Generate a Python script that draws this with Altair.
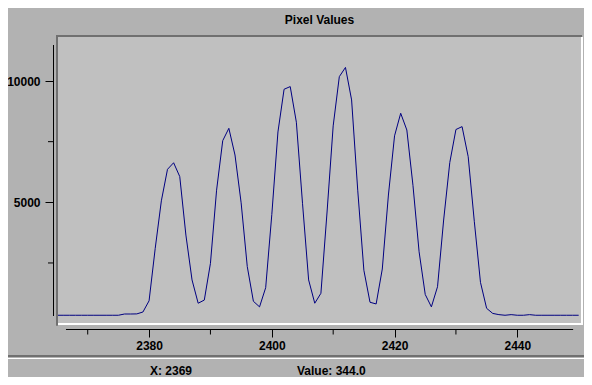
import altair as alt
import pandas as pd

# ---------------- data ----------------
pixel_x = list(range(2365, 2451))
pixel_values = [
    344, 344, 344, 344, 344, 344, 344, 344, 344, 344,        # 2365-2374
    344, 396, 396, 400, 478, 940, 3100, 5060, 6360, 6630,    # 2375-2384
    6060, 3650, 1800, 840, 970, 2485, 5500, 7540, 8050, 6950,  # 2385-2394
    4980, 2350, 920, 690, 1480, 4500, 7900, 9660, 9770, 8300,  # 2395-2404
    4960, 1800, 840, 1250, 4600, 8150, 10180, 10560, 9220, 5500,  # 2405-2414
    2200, 880, 810, 2250, 5300, 7740, 8670, 7980, 5700, 2960,  # 2415-2424
    1200, 690, 1520, 4270, 6640, 8000, 8120, 6880, 4200, 1700,  # 2425-2434
    630, 420, 370, 344, 370, 344, 344, 370, 344, 344,        # 2435-2444
    344, 344, 344, 344, 344, 344,                            # 2445-2450
]
x_major_ticks = [2380, 2400, 2420, 2440]
x_minor_ticks = [2370, 2390, 2410, 2430]
y_major_ticks = [5000, 10000]
y_minor_ticks = [2500, 7500]
x_axis_span = [2366.46, 2449.1]
y_axis_span = [313, 11484]
x_domain = [2365.16, 2450.38]
y_domain = [25, 11814]
title_text = "Pixel Values"
status_x = 2369

df = pd.DataFrame({"X": pixel_x, "value": pixel_values})
status_value = float(df.loc[df["X"] == status_x, "value"].iloc[0])
status_left = f"X: {status_x}"
status_right = f"Value: {status_value:.1f}"

# ---------------- styling ----------------
W, H = 523, 286
PANEL = "#b2b2b2"
PLOT = "#c0c0c0"
DARK = "#707070"
FONT = "Liberation Sans"

xscale = alt.Scale(domain=x_domain, nice=False, zero=False)
yscale = alt.Scale(domain=y_domain, nice=False, zero=False)

xaxis = alt.Axis(values=x_major_ticks, format="d", title=None, domain=False,
                 grid=False, offset=6, tickSize=8, tickColor="black",
                 tickWidth=1, labelPadding=3, labelFlush=False,
                 labelOverlap=False)
yaxis = alt.Axis(values=y_major_ticks, format="d", title=None, domain=False,
                 grid=False, offset=5, tickSize=8, tickColor="black",
                 tickWidth=1, labelPadding=5, labelOverlap=False)

one = pd.DataFrame({"d": [0]})

line = alt.Chart(df).mark_line(color="#000080", strokeWidth=1, clip=True).encode(
    x=alt.X("X:Q", scale=xscale, axis=xaxis),
    y=alt.Y("value:Q", scale=yscale, axis=yaxis),
)

x_axis_line = alt.Chart(
    pd.DataFrame({"a": [x_axis_span[0]], "b": [x_axis_span[1]]})
).mark_rule(color="black", strokeWidth=1).encode(
    x=alt.X("a:Q", scale=xscale, axis=xaxis), x2="b:Q", y=alt.value(292.5)
)
x_minor = alt.Chart(pd.DataFrame({"t": x_minor_ticks})).mark_rule(
    color="black", strokeWidth=1
).encode(
    x=alt.X("t:Q", scale=xscale, axis=xaxis), y=alt.value(292.5), y2=alt.value(297.5)
)
y_axis_line = alt.Chart(
    pd.DataFrame({"a": [y_axis_span[0]], "b": [y_axis_span[1]]})
).mark_rule(color="black", strokeWidth=1).encode(
    y=alt.Y("a:Q", scale=yscale, axis=yaxis), y2="b:Q", x=alt.value(-4.5)
)
y_minor = alt.Chart(pd.DataFrame({"t": y_minor_ticks})).mark_rule(
    color="black", strokeWidth=1
).encode(
    y=alt.Y("t:Q", scale=yscale, axis=yaxis), x=alt.value(-10), x2=alt.value(-4.5)
)


def hrule(x1, x2, y, color, w):
    return alt.Chart(one).mark_rule(color=color, strokeWidth=w).encode(
        x=alt.value(x1), x2=alt.value(x2), y=alt.value(y))


def vrule(x, y1, y2, color, w):
    return alt.Chart(one).mark_rule(color=color, strokeWidth=w).encode(
        x=alt.value(x), y=alt.value(y1), y2=alt.value(y2))


frame = [
    hrule(-2, 524, -1, DARK, 2),
    vrule(-1, -2, 288.7, DARK, 2),
    hrule(0, 525, 287, "white", 2),
    vrule(524, 0, 288, "white", 2),
    hrule(-50, 526, 319, DARK, 2),
    hrule(-50, 526, 321.5, "white", 1),
]


def label(txt, x, y, align):
    return alt.Chart(one).mark_text(
        text=txt, font=FONT, fontWeight="bold", fontSize=12, color="black",
        align=align, baseline="middle"
    ).encode(x=alt.value(x), y=alt.value(y))


texts = [
    label(title_text, 261.5, -16.8, "center"),
    label(status_left, 92, 333.5, "left"),
    label(status_right, 239, 333.5, "left"),
]

chart = alt.layer(
    line, x_axis_line, x_minor, y_axis_line, y_minor, *frame, *texts
).properties(
    width=W, height=H,
    background=PANEL,
    padding={"left": 50, "top": 29, "right": 3, "bottom": 54},
    autosize=alt.AutoSizeParams(type="none"),
).configure_view(
    stroke=None, fill=PLOT
).configure_axis(
    labelFont=FONT, labelFontWeight="bold", labelFontSize=12, labelColor="black"
)

chart.save("out.html", embed_options={"renderer": "svg", "actions": False})
